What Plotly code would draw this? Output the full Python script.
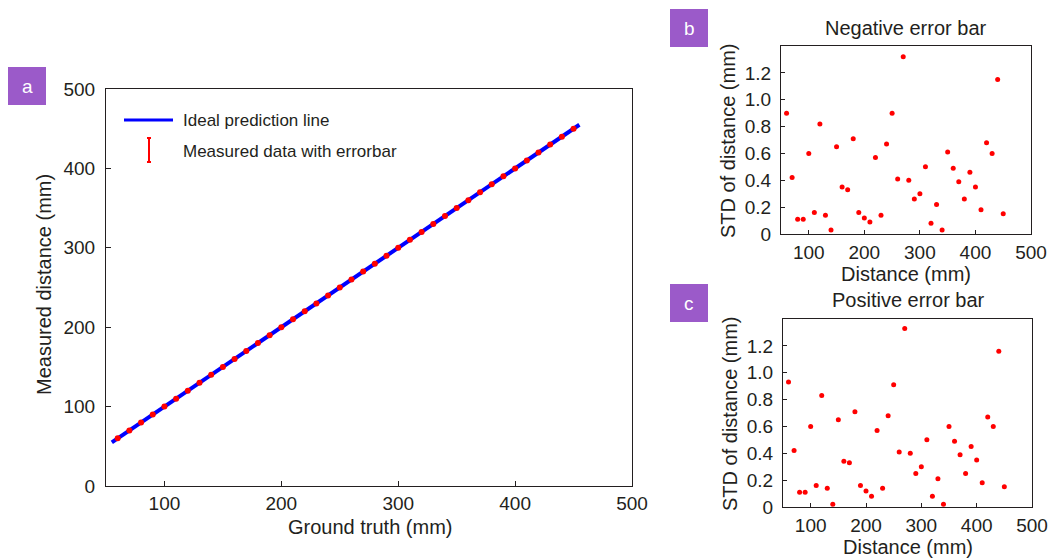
import plotly.graph_objects as go

# ---------------- data ----------------
ground_truth = [60, 70, 80, 90, 100, 110, 120, 130, 140, 150, 160, 170, 180, 190, 200,
                210, 220, 230, 240, 250, 260, 270, 280, 290, 300, 310, 320, 330, 340, 350,
                360, 370, 380, 390, 400, 410, 420, 430, 440, 450]
measured = list(ground_truth)
ideal_x = [55, 455]
ideal_y = [55, 455]

neg_err = [0.90, 0.42, 0.11, 0.11, 0.60, 0.16, 0.82, 0.14, 0.03, 0.65,
           0.35, 0.33, 0.71, 0.16, 0.12, 0.09, 0.57, 0.14, 0.67, 0.90,
           0.41, 1.32, 0.40, 0.26, 0.30, 0.50, 0.08, 0.22, 0.03, 0.61,
           0.49, 0.39, 0.26, 0.46, 0.35, 0.18, 0.68, 0.60, 1.15, 0.15]
pos_err = [0.93, 0.42, 0.11, 0.11, 0.60, 0.16, 0.83, 0.14, 0.02, 0.65,
           0.34, 0.33, 0.71, 0.16, 0.12, 0.08, 0.57, 0.14, 0.68, 0.91,
           0.41, 1.33, 0.40, 0.25, 0.30, 0.50, 0.08, 0.21, 0.02, 0.60,
           0.49, 0.39, 0.25, 0.45, 0.35, 0.18, 0.67, 0.60, 1.16, 0.15]

a_xticks = [100, 200, 300, 400, 500]
a_yticks = [0, 100, 200, 300, 400, 500]
std_xticks = [100, 200, 300, 400, 500]
std_yticks = [0, 0.2, 0.4, 0.6, 0.8, 1.0, 1.2]
std_yticklabels = ["0", "0.2", "0.4", "0.6", "0.8", "1.0", "1.2"]

# ---------------- figure ----------------
W, H = 1053, 558
FONT = "Liberation Sans, Arial, sans-serif"
TXT = "#231f20"
AX = "#231f20"
RED = "#ff0000"
BLUE = "#0000ff"
PURPLE = "#9b5ac9"


def px(x):
    return x / W


def py(y):
    return 1 - y / H


fig = go.Figure()

fig.add_trace(go.Scatter(x=ideal_x, y=ideal_y, mode="lines",
                         line=dict(color=BLUE, width=4),
                         xaxis="x", yaxis="y", showlegend=False))
fig.add_trace(go.Scatter(x=ground_truth, y=measured, mode="markers",
                         marker=dict(color=RED, size=6),
                         error_y=dict(type="data", array=pos_err, arrayminus=neg_err,
                                      color=RED, thickness=1.5, width=2),
                         xaxis="x", yaxis="y", showlegend=False))
fig.add_trace(go.Scatter(x=ground_truth, y=neg_err, mode="markers",
                         marker=dict(color=RED, size=5),
                         xaxis="x2", yaxis="y2", showlegend=False))
fig.add_trace(go.Scatter(x=ground_truth, y=pos_err, mode="markers",
                         marker=dict(color=RED, size=5),
                         xaxis="x3", yaxis="y3", showlegend=False))

common = dict(showgrid=False, zeroline=False, showline=True, linecolor=AX, linewidth=1,
              mirror=True, ticks="inside", tickcolor=AX, tickwidth=1,
              tickfont=dict(family=FONT, size=19, color=TXT), automargin=False)

fig.update_layout(
    width=W, height=H, template="none",
    paper_bgcolor="white", plot_bgcolor="white",
    margin=dict(l=0, r=0, t=0, b=0),
    showlegend=False,
    xaxis=dict(domain=[px(106), px(632)], range=[50, 500], tickvals=a_xticks,
               ticklen=5, anchor="y", ticklabelstandoff=0, **common),
    yaxis=dict(domain=[py(486), py(89)], range=[0, 500], tickvals=a_yticks,
               ticklen=5, anchor="x", ticklabelstandoff=6, **common),
    xaxis2=dict(domain=[px(781), px(1031)], range=[50, 500], tickvals=std_xticks,
                ticklen=4, anchor="y2", ticklabelstandoff=1, **common),
    yaxis2=dict(domain=[py(234), py(46)], range=[0, 1.4], tickvals=std_yticks,
                ticktext=std_yticklabels, ticklen=4, anchor="x2", ticklabelstandoff=5, **common),
    xaxis3=dict(domain=[px(783), px(1032)], range=[50, 500], tickvals=std_xticks,
                ticklen=4, anchor="y3", ticklabelstandoff=1, **common),
    yaxis3=dict(domain=[py(507), py(319)], range=[0, 1.4], tickvals=std_yticks,
                ticktext=std_yticklabels, ticklen=4, anchor="x3", ticklabelstandoff=5, **common),
)

shapes = []
# panel label boxes
for (x0, y0) in [(8, 67), (670, 9), (670, 284)]:
    shapes.append(dict(type="rect", xref="paper", yref="paper",
                       x0=px(x0), x1=px(x0 + 38), y0=py(y0 + 38), y1=py(y0),
                       fillcolor=PURPLE, line=dict(width=0)))
# legend: blue line
shapes.append(dict(type="line", xref="paper", yref="paper",
                   x0=px(124), x1=px(173), y0=py(120), y1=py(120),
                   line=dict(color=BLUE, width=3)))
# legend: error bar icon
shapes.append(dict(type="line", xref="paper", yref="paper",
                   x0=px(149), x1=px(149), y0=py(138), y1=py(162),
                   line=dict(color=RED, width=2)))
for yy in (138, 162):
    shapes.append(dict(type="line", xref="paper", yref="paper",
                       x0=px(147), x1=px(151), y0=py(yy), y1=py(yy),
                       line=dict(color=RED, width=2)))
fig.update_layout(shapes=shapes)


def ann(text, x, y, size=20, angle=0, xanchor="center", color=TXT):
    return dict(text=text, x=px(x), y=py(y), xref="paper", yref="paper",
                showarrow=False, textangle=angle, xanchor=xanchor, yanchor="middle",
                font=dict(family=FONT, size=size, color=color))


annotations = [
    ann("a", 27, 86, size=19, color="white"),
    ann("b", 689, 28, size=19, color="white"),
    ann("c", 689, 303, size=19, color="white"),
    ann("Ideal prediction line", 181, 120, size=17, xanchor="left"),
    ann("Measured data with errorbar", 181, 151, size=17, xanchor="left"),
    ann("Measured distance (mm)", 44, 285, angle=-90),
    ann("Ground truth (mm)", 370, 527),
    ann("Negative error bar", 906, 28),
    ann("STD of distance (mm)", 728, 141, angle=-90),
    ann("Distance (mm)", 906, 274),
    ann("Positive error bar", 908, 300),
    ann("STD of distance (mm)", 730, 414, angle=-90),
    ann("Distance (mm)", 908, 547),
]
fig.update_layout(annotations=annotations)

fig.write_html("out.html")
